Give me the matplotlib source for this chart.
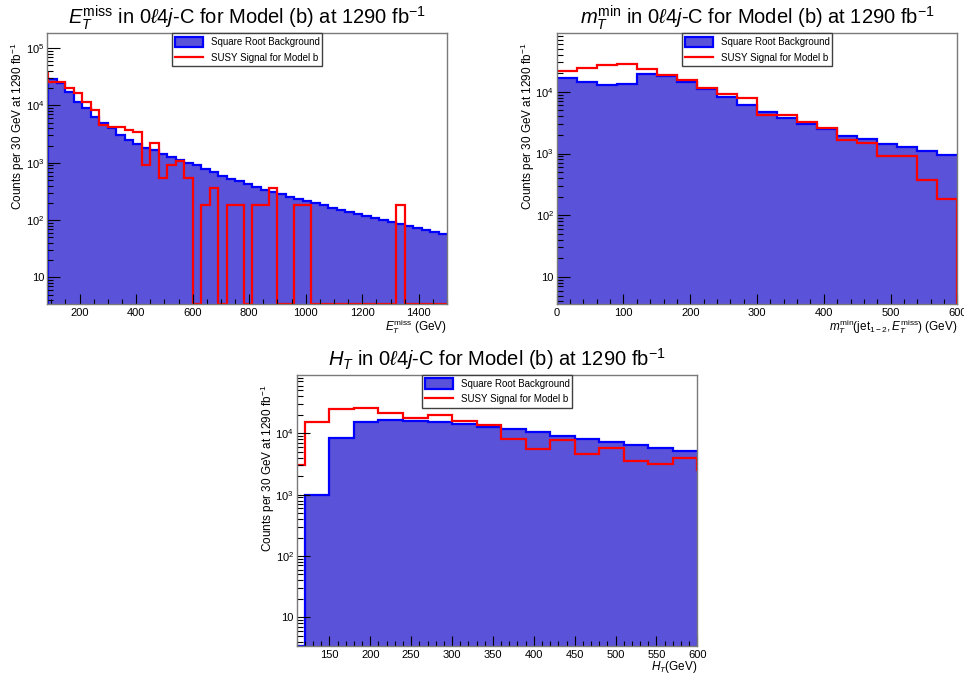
import numpy as np
import matplotlib
matplotlib.use('Agg')
import matplotlib.pyplot as plt
from matplotlib.patches import Patch
from matplotlib.lines import Line2D
from matplotlib.ticker import FixedLocator, MultipleLocator, LogLocator, FuncFormatter, NullFormatter

# Fuentes tipo Helvetica (estilo ROOT)
plt.rcParams['font.family'] = ['Liberation Sans', 'DejaVu Sans']
plt.rcParams['mathtext.fontset'] = 'custom'
plt.rcParams['mathtext.rm'] = 'Liberation Sans'
plt.rcParams['mathtext.it'] = 'Liberation Sans:italic'
plt.rcParams['mathtext.bf'] = 'Liberation Sans:bold'

# ---- Datos: E_T^miss ----
met_edges = np.arange(60, 1501, 30)
met_bkg = [0, 28800, 24500, 16900, 11700, 9000, 6400, 5000, 4020, 3090, 2500, 2120,
           1800, 1640, 1415, 1270, 1130, 1000, 900, 785, 690, 600, 525, 472,
           425, 376, 338, 308, 284, 255, 235, 214, 198, 180, 166, 151,
           140, 129, 117, 110, 101, 94, 86, 80, 73, 68, 63, 58]
met_sig = [36600, 26100, 26100, 20000, 16400, 11700, 8380, 4600, 4280, 4280, 3750, 3500,
           910, 2200, 540, 920, 1080, 540, 0, 184, 360, 0, 184, 184,
           0, 184, 184, 360, 0, 0, 184, 184, 0, 0, 0, 0,
           0, 0, 0, 0, 0, 0, 184, 0, 0, 0, 0, 0]

# ---- Datos: m_T^min ----
mt_bkg_edges = np.arange(0, 601, 30)
mt_sig_edges = np.arange(0, 631, 30)
mt_bkg = [16900, 14500, 13000, 13600, 19100, 18200, 14500, 10900, 8300, 6080,
          4630, 3700, 2990, 2450, 1930, 1690, 1420, 1270, 1090, 940]
mt_sig = [21600, 23900, 27000, 28100, 23000, 18400, 15400, 11700, 9050, 7900,
          4240, 4130, 3260, 2570, 1640, 1490, 916, 916, 370, 182, 0]

# ---- Datos: H_T ----
ht_bkg_edges = np.arange(90, 601, 30)
ht_sig_edges = np.arange(90, 631, 30)
ht_bkg = [0, 975, 8500, 15500, 16500, 15900, 15100, 14200, 12700, 11600,
          10500, 9050, 8190, 7310, 6370, 5770, 5090]
ht_sig = [3000, 15300, 25200, 26200, 21700, 17800, 19900, 15900, 13800, 7980,
          5480, 7690, 4550, 5690, 3580, 3160, 4010, 2520]

fill_color = '#5a52d8'
frame_color = '#7a7a7a'


def log_label(v, pos):
    if v == 10:
        return '10'
    return r'$10^{%d}$' % int(round(np.log10(v)))


def draw_panel(ax, bkg_edges, bkg, sig_edges, sig, xlim, ylim, major, minor, title, xlabel):
    ymin = ylim[0]
    bkg = np.array(bkg, dtype=float)
    sig = np.array(sig, dtype=float)
    # bins vacios -> al borde inferior del eje log
    bkg = np.where(bkg > 0, bkg, ymin)
    sig = np.where(sig > 0, sig, ymin)

    ax.stairs(bkg, bkg_edges, baseline=ymin, fill=True, color=fill_color, lw=0)
    ax.stairs(bkg, bkg_edges, baseline=None, color='blue', lw=1.6)
    ax.stairs(sig, sig_edges, baseline=None, color='red', lw=1.6)

    ax.set_yscale('log')
    ax.set_xlim(*xlim)
    ax.set_ylim(*ylim)

    ax.xaxis.set_major_locator(MultipleLocator(major))
    ax.xaxis.set_minor_locator(MultipleLocator(minor))
    ax.yaxis.set_major_locator(FixedLocator([10, 1e2, 1e3, 1e4, 1e5]))
    ax.yaxis.set_minor_locator(LogLocator(base=10, subs=np.arange(2, 10), numticks=20))
    ax.yaxis.set_major_formatter(FuncFormatter(log_label))
    ax.yaxis.set_minor_formatter(NullFormatter())

    ax.tick_params(which='both', direction='in', top=False, right=False, labelsize=8, width=0.8)
    ax.tick_params(axis='x', which='major', length=7, pad=3)
    ax.tick_params(axis='x', which='minor', length=3.5)
    ax.tick_params(axis='y', which='major', length=9, pad=2)
    ax.tick_params(axis='y', which='minor', length=4.5)
    for sp in ax.spines.values():
        sp.set_color(frame_color)
        sp.set_linewidth(1.0)

    ax.set_title(title, fontsize=14.5, pad=7)
    ax.set_ylabel(r'Counts per 30 GeV at 1290 fb$^{-1}$', fontsize=8.5, loc='top')
    ax.yaxis.set_label_coords(-0.073, 0.965)
    ax.yaxis.label.set_va('center')
    ax.set_xlabel(xlabel, fontsize=8.5, loc='right')
    ax.xaxis.set_label_coords(1.0, -0.047)
    ax.xaxis.label.set_va('top')

    handles = [Patch(facecolor=fill_color, edgecolor='blue', lw=1.6),
               Line2D([], [], color='red', lw=1.6)]
    leg = ax.legend(handles, ['Square Root Background', 'SUSY Signal for Model b'],
                    loc='upper left', bbox_to_anchor=(0.312, 0.876, 0.375, 0.124),
                    mode='expand', fontsize=7, handlelength=2.9, handleheight=1.3,
                    labelspacing=0.5, borderpad=0.35, borderaxespad=0, handletextpad=0.8,
                    fancybox=False, framealpha=1)
    leg.get_frame().set_edgecolor('#404040')
    leg.get_frame().set_linewidth(1.0)


fig = plt.figure(figsize=(9.64, 6.74), dpi=100)
ax1 = fig.add_axes([0.0488, 0.5485, 0.415, 0.4018])
ax2 = fig.add_axes([0.5775, 0.5485, 0.4156, 0.4018])
ax3 = fig.add_axes([0.3078, 0.0415, 0.4156, 0.402])

draw_panel(ax1, met_edges, met_bkg, met_edges, met_sig, (85, 1500), (3.4, 1.8e5), 200, 50,
           r'$E_T^{\rm miss}$ in 0$\ell$4$j$-C for Model (b) at 1290 fb$^{-1}$',
           r'$E_T^{\rm miss}$ (GeV)')
draw_panel(ax2, mt_bkg_edges, mt_bkg, mt_sig_edges, mt_sig, (0, 600), (3.6, 8.8e4), 100, 20,
           r'$m_T^{\rm min}$ in 0$\ell$4$j$-C for Model (b) at 1290 fb$^{-1}$',
           r'$m_T^{\rm min}({\rm jet}_{1-2}, E_T^{\rm miss})$ (GeV)')
draw_panel(ax3, ht_bkg_edges, ht_bkg, ht_sig_edges, ht_sig, (110, 600), (3.4, 8.9e4), 50, 10,
           r'$H_T$ in 0$\ell$4$j$-C for Model (b) at 1290 fb$^{-1}$',
           r'$H_T$(GeV)')

fig.savefig('out.png', dpi=100)
